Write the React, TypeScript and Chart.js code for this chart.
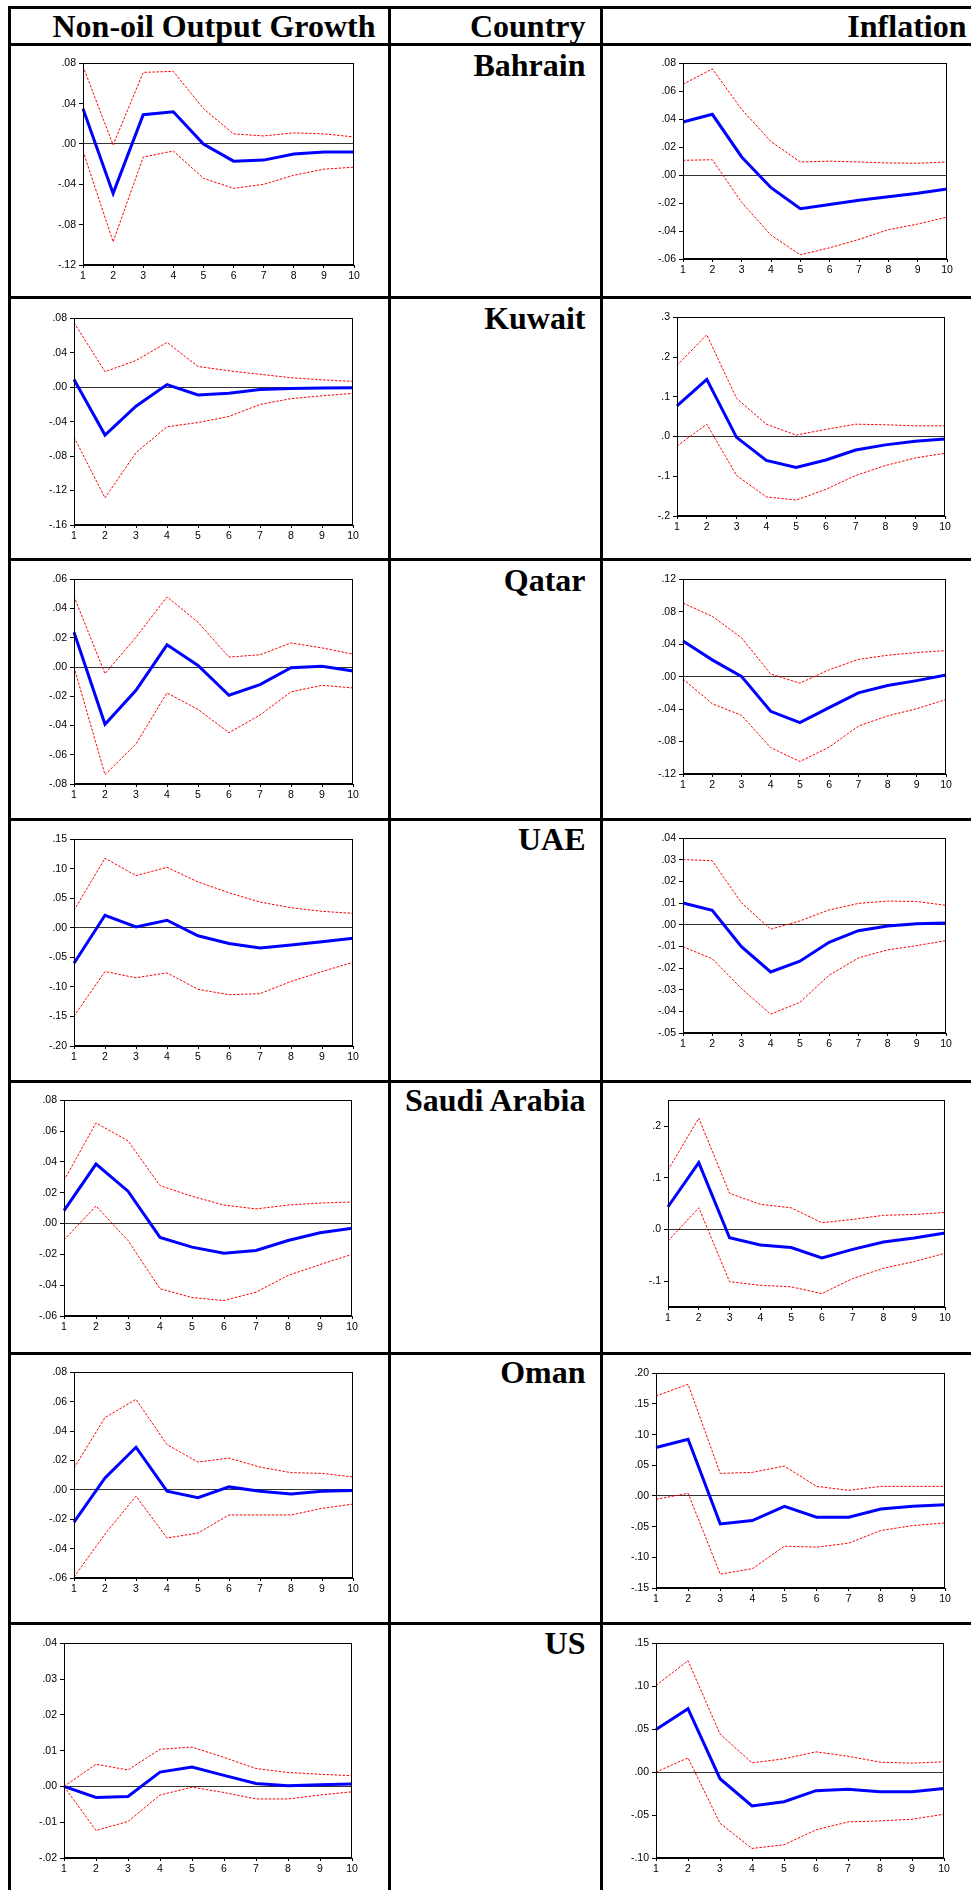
import React, { useEffect, useRef } from 'react';
import { Chart, registerables } from 'chart.js';

Chart.register(...registerables);

// ---------- data ----------
const periods = ['1', '2', '3', '4', '5', '6', '7', '8', '9', '10'];

const columnHeaders = ['Non-oil Output Growth', 'Country', 'Inflation'];
const countries = ['Bahrain', 'Kuwait', 'Qatar', 'UAE', 'Saudi Arabia', 'Oman', 'US'];

const bahrainOutputIrf = [0.035, -0.049, 0.029, 0.032, 0.0, -0.017, -0.016, -0.010, -0.008, -0.008];
const bahrainOutputUpper = [0.077, -0.001, 0.071, 0.072, 0.035, 0.010, 0.008, 0.011, 0.010, 0.007];
const bahrainOutputLower = [-0.007, -0.097, -0.013, -0.007, -0.034, -0.044, -0.040, -0.031, -0.025, -0.023];
const bahrainOutputTicks = [-0.12, -0.08, -0.04, 0, 0.04, 0.08];

const bahrainInflIrf = [0.038, 0.0435, 0.013, -0.009, -0.024, -0.021, -0.018, -0.0155, -0.013, -0.010];
const bahrainInflUpper = [0.065, 0.076, 0.047, 0.024, 0.0094, 0.010, 0.0094, 0.0087, 0.0085, 0.0094];
const bahrainInflLower = [0.0106, 0.011, -0.0195, -0.043, -0.057, -0.052, -0.046, -0.039, -0.035, -0.030];
const bahrainInflTicks = [-0.06, -0.04, -0.02, 0, 0.02, 0.04, 0.06, 0.08];

const kuwaitOutputIrf = [0.009, -0.0556, -0.022, 0.003, -0.009, -0.007, -0.0026, -0.0014, -0.001, -0.0006];
const kuwaitOutputUpper = [0.075, 0.018, 0.031, 0.052, 0.024, 0.019, 0.015, 0.011, 0.0086, 0.0067];
const kuwaitOutputLower = [-0.058, -0.1285, -0.076, -0.046, -0.041, -0.034, -0.020, -0.0133, -0.010, -0.0072];
const kuwaitOutputTicks = [-0.16, -0.12, -0.08, -0.04, 0, 0.04, 0.08];

const kuwaitInflIrf = [0.077, 0.144, -0.002, -0.060, -0.078, -0.059, -0.034, -0.021, -0.012, -0.006];
const kuwaitInflUpper = [0.179, 0.256, 0.096, 0.031, 0.0037, 0.018, 0.031, 0.0296, 0.027, 0.027];
const kuwaitInflLower = [-0.024, 0.031, -0.098, -0.152, -0.160, -0.133, -0.098, -0.073, -0.054, -0.042];
const kuwaitInflTicks = [-0.2, -0.1, 0, 0.1, 0.2, 0.3];

const qatarOutputIrf = [0.0238, -0.0392, -0.0159, 0.0152, 0.0011, -0.0193, -0.012, -0.0005, 0.0005, -0.0027];
const qatarOutputUpper = [0.0483, -0.0045, 0.0204, 0.048, 0.0306, 0.0068, 0.0084, 0.0165, 0.0131, 0.0088];
const qatarOutputLower = [0.0, -0.0736, -0.0526, -0.0177, -0.029, -0.0449, -0.0328, -0.017, -0.0125, -0.0143];
const qatarOutputTicks = [-0.08, -0.06, -0.04, -0.02, 0, 0.02, 0.04, 0.06];

const qatarInflIrf = [0.044, 0.0207, 0.0004, -0.0427, -0.0566, -0.0382, -0.0199, -0.011, -0.0049, 0.002];
const qatarInflUpper = [0.0907, 0.0744, 0.048, 0.0033, -0.0081, 0.0085, 0.0212, 0.0264, 0.0297, 0.0321];
const qatarInflLower = [-0.0028, -0.0334, -0.0476, -0.0875, -0.1046, -0.087, -0.061, -0.0484, -0.0395, -0.0281];
const qatarInflTicks = [-0.12, -0.08, -0.04, 0, 0.04, 0.08, 0.12];

const uaeOutputIrf = [-0.0599, 0.0213, 0.0017, 0.0129, -0.0134, -0.0263, -0.0342, -0.0291, -0.0235, -0.0174];
const uaeOutputUpper = [0.0297, 0.118, 0.0885, 0.1025, 0.0778, 0.0594, 0.0437, 0.0342, 0.028, 0.0246];
const uaeOutputLower = [-0.1495, -0.0739, -0.0845, -0.0761, -0.1041, -0.1131, -0.1114, -0.0907, -0.0739, -0.0582];
const uaeOutputTicks = [-0.2, -0.15, -0.1, -0.05, 0, 0.05, 0.1, 0.15];

const uaeInflIrf = [0.0101, 0.0067, -0.0101, -0.0218, -0.0168, -0.0081, -0.0027, -0.0005, 0.0005, 0.0009];
const uaeInflUpper = [0.0302, 0.0296, 0.0102, -0.002, 0.0018, 0.0069, 0.0099, 0.011, 0.0108, 0.009];
const uaeInflLower = [-0.0101, -0.0157, -0.0294, -0.0413, -0.0358, -0.0233, -0.0153, -0.0116, -0.0096, -0.0073];
const uaeInflTicks = [-0.05, -0.04, -0.03, -0.02, -0.01, 0, 0.01, 0.02, 0.03, 0.04];

const saudiOutputIrf = [0.0084, 0.0386, 0.021, -0.009, -0.0153, -0.0192, -0.0175, -0.011, -0.006, -0.003];
const saudiOutputUpper = [0.028, 0.0653, 0.0537, 0.0246, 0.0177, 0.012, 0.0095, 0.012, 0.0133, 0.014];
const saudiOutputLower = [-0.0106, 0.0114, -0.011, -0.0423, -0.048, -0.050, -0.0445, -0.0337, -0.0266, -0.020];
const saudiOutputTicks = [-0.06, -0.04, -0.02, 0, 0.02, 0.04, 0.06, 0.08];

const saudiInflIrf = [0.044, 0.1295, -0.016, -0.030, -0.035, -0.055, -0.0385, -0.0243, -0.0166, -0.007];
const saudiInflUpper = [0.115, 0.2155, 0.070, 0.0487, 0.042, 0.013, 0.0195, 0.0274, 0.029, 0.033];
const saudiInflLower = [-0.0224, 0.042, -0.101, -0.108, -0.111, -0.124, -0.095, -0.075, -0.062, -0.046];
const saudiInflTicks = [-0.1, 0, 0.1, 0.2];

const omanOutputIrf = [-0.022, 0.0081, 0.029, -0.0009, -0.0054, 0.002, -0.0009, -0.0029, -0.0009, -0.0004];
const omanOutputUpper = [0.0148, 0.0492, 0.0616, 0.0308, 0.0189, 0.0216, 0.0155, 0.0117, 0.0112, 0.0088];
const omanOutputLower = [-0.0593, -0.0301, -0.0043, -0.0328, -0.0294, -0.0171, -0.0171, -0.0171, -0.0126, -0.0097];
const omanOutputTicks = [-0.06, -0.04, -0.02, 0, 0.02, 0.04, 0.06, 0.08];

const omanInflIrf = [0.0791, 0.0926, -0.0455, -0.0401, -0.0168, -0.0347, -0.0347, -0.0211, -0.0168, -0.0141];
const omanInflUpper = [0.163, 0.182, 0.0368, 0.0385, 0.0488, 0.0157, 0.0092, 0.0157, 0.0157, 0.0157];
const omanInflLower = [-0.0054, 0.0043, -0.1273, -0.1186, -0.0818, -0.0834, -0.0769, -0.0563, -0.0482, -0.0439];
const omanInflTicks = [-0.15, -0.1, -0.05, 0, 0.05, 0.1, 0.15, 0.2];

const usOutputIrf = [0.0, -0.0031, -0.0028, 0.004, 0.0054, 0.0031, 0.0008, 0.0002, 0.0005, 0.0007];
const usOutputUpper = [0.0, 0.0062, 0.0046, 0.0104, 0.011, 0.0081, 0.005, 0.0039, 0.0034, 0.003];
const usOutputLower = [0.0, -0.0123, -0.0098, -0.0024, -0.0002, -0.0017, -0.0035, -0.0035, -0.0024, -0.0015];
const usOutputTicks = [-0.02, -0.01, 0, 0.01, 0.02, 0.03, 0.04];

const usInflIrf = [0.0495, 0.0738, -0.0077, -0.0394, -0.0344, -0.0216, -0.020, -0.0228, -0.0228, -0.019];
const usInflUpper = [0.1008, 0.1298, 0.0444, 0.0108, 0.0155, 0.0236, 0.0185, 0.0116, 0.0104, 0.012];
const usInflLower = [0.0, 0.0166, -0.0595, -0.0889, -0.0846, -0.0672, -0.058, -0.0568, -0.0549, -0.049];
const usInflTicks = [-0.1, -0.05, 0, 0.05, 0.1, 0.15];

// ---------- layout (positions only) ----------
type Panel = {
  irf: number[];
  upper: number[];
  lower: number[];
  ticks: number[];
  min: number;
  max: number;
  decimals: number;
  box: [number, number, number, number]; // left, right, top, bottom of plot area
};

const panels: Panel[] = [
  { irf: bahrainOutputIrf, upper: bahrainOutputUpper, lower: bahrainOutputLower, ticks: bahrainOutputTicks, min: -0.12, max: 0.08, decimals: 2, box: [83, 354, 62, 265] },
  { irf: bahrainInflIrf, upper: bahrainInflUpper, lower: bahrainInflLower, ticks: bahrainInflTicks, min: -0.06, max: 0.08, decimals: 2, box: [683, 947, 62, 259] },
  { irf: kuwaitOutputIrf, upper: kuwaitOutputUpper, lower: kuwaitOutputLower, ticks: kuwaitOutputTicks, min: -0.16, max: 0.08, decimals: 2, box: [74, 353, 317, 525] },
  { irf: kuwaitInflIrf, upper: kuwaitInflUpper, lower: kuwaitInflLower, ticks: kuwaitInflTicks, min: -0.2, max: 0.3, decimals: 1, box: [677, 945, 316, 516] },
  { irf: qatarOutputIrf, upper: qatarOutputUpper, lower: qatarOutputLower, ticks: qatarOutputTicks, min: -0.08, max: 0.06, decimals: 2, box: [74, 353, 578, 784] },
  { irf: qatarInflIrf, upper: qatarInflUpper, lower: qatarInflLower, ticks: qatarInflTicks, min: -0.12, max: 0.12, decimals: 2, box: [683, 946, 578, 774] },
  { irf: uaeOutputIrf, upper: uaeOutputUpper, lower: uaeOutputLower, ticks: uaeOutputTicks, min: -0.2, max: 0.15, decimals: 2, box: [74, 353, 838, 1046] },
  { irf: uaeInflIrf, upper: uaeInflUpper, lower: uaeInflLower, ticks: uaeInflTicks, min: -0.05, max: 0.04, decimals: 2, box: [683, 946, 837, 1033] },
  { irf: saudiOutputIrf, upper: saudiOutputUpper, lower: saudiOutputLower, ticks: saudiOutputTicks, min: -0.06, max: 0.08, decimals: 2, box: [64, 352, 1099, 1316] },
  { irf: saudiInflIrf, upper: saudiInflUpper, lower: saudiInflLower, ticks: saudiInflTicks, min: -0.15, max: 0.25, decimals: 1, box: [668, 945, 1099, 1307] },
  { irf: omanOutputIrf, upper: omanOutputUpper, lower: omanOutputLower, ticks: omanOutputTicks, min: -0.06, max: 0.08, decimals: 2, box: [74, 353, 1371, 1578] },
  { irf: omanInflIrf, upper: omanInflUpper, lower: omanInflLower, ticks: omanInflTicks, min: -0.15, max: 0.2, decimals: 2, box: [656, 945, 1372, 1588] },
  { irf: usOutputIrf, upper: usOutputUpper, lower: usOutputLower, ticks: usOutputTicks, min: -0.02, max: 0.04, decimals: 2, box: [64, 352, 1642, 1858] },
  { irf: usInflIrf, upper: usInflUpper, lower: usInflLower, ticks: usInflTicks, min: -0.1, max: 0.15, decimals: 2, box: [656, 944, 1642, 1858] },
];

const hLines = [6, 43, 296, 558, 818, 1080, 1352, 1622];
const vLines = [8, 388, 600];
const headerBaseline = 36.8;
const countryBaselines = [75.7, 329, 590.5, 849.3, 1110.5, 1382.7, 1654];
const headerRightEdges = [375.5, 585.5, 966.5];
const countryRightEdge = 585.5;

const AXIS_W = 40;
const AXIS_H = 22;
const PAD_T = 8;
const PAD_R = 10;
const TICK_FONT = { family: '"Liberation Sans", Arial, Helvetica, sans-serif', size: 10.5 };
const SERIF = '"Liberation Serif", "Times New Roman", Times, serif';

function fmt(v: number, d: number): string {
  const s = Number(v).toFixed(d);
  return s.replace('0.', '.');
}

const framePlugin = {
  id: 'frame',
  afterDraw(chart: any) {
    const { ctx, chartArea } = chart;
    const l = Math.round(chartArea.left) + 0.5;
    const t = Math.round(chartArea.top) + 0.5;
    const r = Math.round(chartArea.right) - 0.5;
    const b = Math.round(chartArea.bottom) - 0.5;
    ctx.save();
    ctx.strokeStyle = '#000';
    ctx.lineWidth = 1;
    ctx.strokeRect(l, t, r - l, b - t);
    ctx.restore();
  },
};

function IrfChart({ p }: { p: Panel }) {
  const ref = useRef<HTMLCanvasElement | null>(null);
  const [l, r, t, b] = p.box;
  const width = r - l + AXIS_W + PAD_R;
  const height = b - t + PAD_T + AXIS_H;

  useEffect(() => {
    if (!ref.current) return;
    const chart = new Chart(ref.current, {
      type: 'line',
      data: {
        labels: periods,
        datasets: [
          { data: p.upper, borderColor: '#ff0000', borderWidth: 1, borderDash: [2.5, 1.5], pointRadius: 0, fill: false, tension: 0 },
          { data: p.lower, borderColor: '#ff0000', borderWidth: 1, borderDash: [2.5, 1.5], pointRadius: 0, fill: false, tension: 0 },
          { data: p.irf, borderColor: '#0000ff', borderWidth: 3, pointRadius: 0, fill: false, tension: 0 },
        ],
      },
      options: {
        animation: false,
        responsive: false,
        maintainAspectRatio: false,
        devicePixelRatio: 1,
        events: [],
        layout: { padding: { left: 0, top: PAD_T, right: PAD_R, bottom: 0 } },
        plugins: { legend: { display: false }, tooltip: { enabled: false }, title: { display: false } },
        scales: {
          x: {
            type: 'category',
            offset: false,
            grid: { display: true, drawOnChartArea: false, drawTicks: true, tickLength: 3, tickColor: '#000' },
            border: { display: true, color: '#000', width: 1 },
            ticks: { color: '#000', font: TICK_FONT, padding: 2, maxRotation: 0, autoSkip: false },
            afterFit: (s: any) => { s.height = AXIS_H; },
          },
          y: {
            type: 'linear',
            min: p.min,
            max: p.max,
            afterBuildTicks: (s: any) => { s.ticks = p.ticks.map((v) => ({ value: v })); },
            grid: {
              display: true,
              drawOnChartArea: true,
              drawTicks: true,
              tickLength: 4,
              tickColor: '#000',
              lineWidth: 1,
              color: (c: any) => (c.tick && Math.abs(c.tick.value) < 1e-9 ? '#333' : 'rgba(0,0,0,0)'),
            },
            border: { display: true, color: '#000', width: 1 },
            ticks: {
              color: '#000',
              font: TICK_FONT,
              padding: 3,
              autoSkip: false,
              callback: (v: any) => fmt(Number(v), p.decimals),
            },
            afterFit: (s: any) => { s.width = AXIS_W; },
          },
        },
      },
      plugins: [framePlugin],
    } as any);
    return () => chart.destroy();
  }, []);

  return (
    <canvas
      ref={ref}
      width={width}
      height={height}
      style={{ position: 'absolute', left: l - AXIS_W, top: t - PAD_T, width, height }}
    />
  );
}

function Label({ text, right, baseline }: { text: string; right: number; baseline: number }) {
  return (
    <div
      style={{
        position: 'absolute',
        left: 0,
        width: right,
        top: baseline - 26.8,
        textAlign: 'right',
        whiteSpace: 'nowrap',
        fontFamily: SERIF,
        fontWeight: 'bold',
        fontSize: 32,
        lineHeight: '32px',
        color: '#000',
      }}
    >
      {text}
    </div>
  );
}

export default function App() {
  return (
    <div
      style={{
        position: 'fixed',
        left: 0,
        top: 0,
        width: 971,
        height: 1890,
        overflow: 'hidden',
        background: '#fff',
      }}
    >
      {hLines.map((y, i) => (
        <div key={'h' + i} style={{ position: 'absolute', left: 8, top: y, width: 1000, height: 3, background: '#000' }} />
      ))}
      {vLines.map((x, i) => (
        <div key={'v' + i} style={{ position: 'absolute', left: x, top: 6, width: 3, height: 1900, background: '#000' }} />
      ))}
      {columnHeaders.map((h, i) => (
        <Label key={'c' + i} text={h} right={headerRightEdges[i]} baseline={headerBaseline} />
      ))}
      {countries.map((c, i) => (
        <Label key={'n' + i} text={c} right={countryRightEdge} baseline={countryBaselines[i]} />
      ))}
      {panels.map((p, i) => (
        <IrfChart key={'p' + i} p={p} />
      ))}
    </div>
  );
}
